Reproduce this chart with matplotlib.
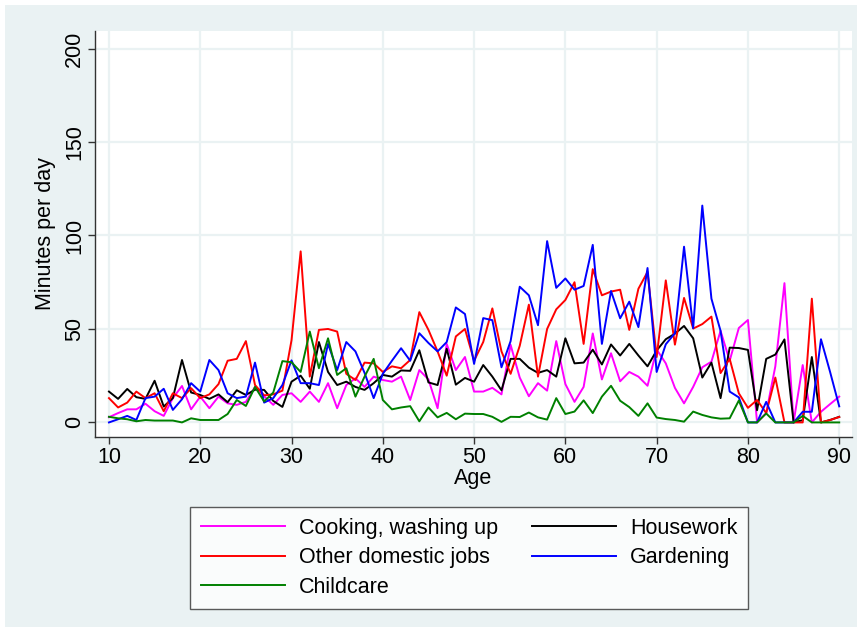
import numpy as np
import matplotlib
matplotlib.use("Agg")
from matplotlib import pyplot as plt

plt.rcParams['font.family'] = ['Liberation Sans', 'DejaVu Sans']

ages = list(range(10, 91))

cooking = [2.8, 5, 7, 7, 10, 6, 3.5, 13, 19.5, 7,
           13.8, 7.6, 13.8, 10.2, 9.4, 11, 19, 14, 9.4, 14.7,
           15.6, 11, 16.5, 11, 21, 7.6, 20, 23.6, 19, 24.5,
           22.7, 21.8, 24.5, 12, 28, 23, 7.6, 42, 28, 35,
           16.5, 16.5, 18.5, 15, 41.5, 24, 14, 21, 17, 43.5,
           20.5, 11, 19, 47.6, 23, 37, 22, 27, 24.5, 19.6,
           39, 31.6, 18.5, 10.2, 19, 29.5, 32.5, 49, 33, 50.5,
           54.8, 0, 5, 30, 74.5, 0, 30.7, 0, 5.7, 9.8,
           13.8]
other_jobs = [13, 8, 10.6, 16.5, 13, 15.6, 6, 15.6, 13, 18.3,
              13, 15, 20.5, 33, 34, 43.5, 20, 14.5, 15, 17,
              44, 91.5, 24.5, 49.5, 50, 48.6, 26, 22.7, 32, 31.6,
              27, 30, 29, 33.4, 59, 49.5, 38, 25, 46, 50,
              33, 43, 61, 38, 26, 41, 63, 24.5, 50, 60.5,
              65.5, 75, 42, 82, 68, 70, 71, 49.5, 71.5, 80.5,
              35, 76, 41.6, 66.6, 50.2, 52.6, 56.6, 26.4, 34, 15.6,
              7.8, 12, 5, 24, 0, 0, 0, 66.2, 0, 1.3,
              2.9]
childcare = [3, 2.2, 1.7, 0.6, 1.3, 1, 1, 1, 0, 2.2,
             1.3, 1.3, 1.3, 4.5, 12, 8.8, 19, 11.2, 16, 32.8,
             32.2, 27, 48.6, 29, 45, 25.4, 29, 13.8, 24.5, 34,
             12, 7, 8, 8.7, 0.6, 8, 2.7, 5.1, 1.7, 4.7,
             4.5, 4.5, 3, 0.3, 3, 2.9, 5.3, 2.7, 1.5, 13,
             4.5, 5.8, 11.8, 5, 13.8, 19.6, 11.6, 8.2, 3.5, 10.2,
             2.6, 1.8, 1.3, 0.4, 5.8, 4, 2.7, 2, 2.2, 11.7,
             0, 0, 4.8, 0, 0, 0, 3.5, 0, 0, 0,
             0]
housework = [16.5, 12.6, 17.9, 13.5, 12.6, 22.3, 8.5, 13, 33.4, 16,
             14.7, 12.6, 15, 10.8, 17.2, 14.7, 17.5, 17.4, 11.5, 8.3,
             21.8, 25, 18, 43, 27, 20, 21.8, 19, 17.4, 21,
             25.4, 24.5, 27.8, 27.6, 38.6, 21.4, 20, 39.4, 20.2, 23.8,
             21.8, 30.7, 24.5, 17.2, 34, 34, 29.3, 26.5, 28, 24.5,
             45, 31.6, 32, 38.9, 31, 41.7, 35.8, 42, 35.8, 30,
             38.5, 44.5, 47.5, 51.6, 45, 24, 32, 13, 40, 39.8,
             38.8, 6.5, 34, 36.3, 44.4, 0, 1.2, 35, 0, 1.3,
             3]
gardening = [0, 1.7, 3.5, 1.3, 13, 13.8, 18, 6.7, 12.4, 21,
             16.5, 33.4, 28, 15.6, 13, 13.8, 32, 10.6, 13, 20,
             33.2, 21, 21, 20, 42, 28, 43, 38, 26.5, 13,
             26, 33, 39.7, 33, 47.7, 42.5, 38, 43, 61.5, 58,
             31.3, 55.8, 54.7, 29.5, 43.5, 72.6, 68, 52, 97, 72,
             77, 71, 73, 95, 42, 70.3, 55.7, 64.6, 51, 82.6,
             27, 41.8, 47.7, 94, 50.4, 116, 66.2, 49, 16.5, 13.4,
             0, 0, 11, 0, 0, 0, 5.7, 5.7, 44.5, 27,
             8.6]

bg = '#EAF2F3'
fs = 15.5
fig = plt.figure(figsize=(8.62, 6.32), dpi=100)
fig.patch.set_facecolor('white')
# light outer region like Stata's graph region
fig.patches.append(plt.Rectangle((5 / 862, 5 / 632), 852 / 862, 622 / 632,
                                 transform=fig.transFigure, facecolor=bg,
                                 edgecolor='none', zorder=-10))

ax = fig.add_axes([95 / 862, (632 - 437) / 632, 757 / 862, 406 / 632])
ax.set_facecolor('white')

lw = 1.4
l1, = ax.plot(ages, cooking, color='#FF00FF', lw=lw, label='Cooking, washing up')
l4, = ax.plot(ages, housework, color='black', lw=lw, label='Housework')
l2, = ax.plot(ages, other_jobs, color='#FF0000', lw=lw, label='Other domestic jobs')
l5, = ax.plot(ages, gardening, color='#0000FF', lw=lw, label='Gardening')
l3, = ax.plot(ages, childcare, color='#008000', lw=lw, label='Childcare')

ax.set_xlim(8.47, 91.4)
ax.set_ylim(-7.8, 209.4)
ax.set_xticks(range(10, 91, 10))
ax.set_yticks(range(0, 201, 50))
ax.grid(True, color=bg, lw=1.6)
ax.set_axisbelow(True)

for s in ['top', 'right']:
    ax.spines[s].set_visible(False)
for s in ['left', 'bottom']:
    ax.spines[s].set_color('#333333')
    ax.spines[s].set_linewidth(1.0)

ax.tick_params(direction='out', length=5, width=1, color='#333333',
               labelsize=fs, pad=2)
for lab in ax.get_yticklabels():
    lab.set_rotation(90)
    lab.set_va('center')

ax.set_xlabel('Age', fontsize=fs, labelpad=0)
ax.set_ylabel('Minutes per day', fontsize=fs, labelpad=6)

leg = fig.legend(handles=[l1, l2, l3, l4, l5], ncol=2, loc='upper center',
                 bbox_to_anchor=(469 / 862, 1 - 507 / 632), fontsize=fs,
                 frameon=True, fancybox=False, edgecolor='#333333',
                 handlelength=3.9, handletextpad=0.65, columnspacing=1.6,
                 labelspacing=0.4, borderpad=0.5, borderaxespad=0)
leg.get_frame().set_linewidth(1.0)

plt.savefig('out.png', dpi=100, facecolor=fig.get_facecolor())
